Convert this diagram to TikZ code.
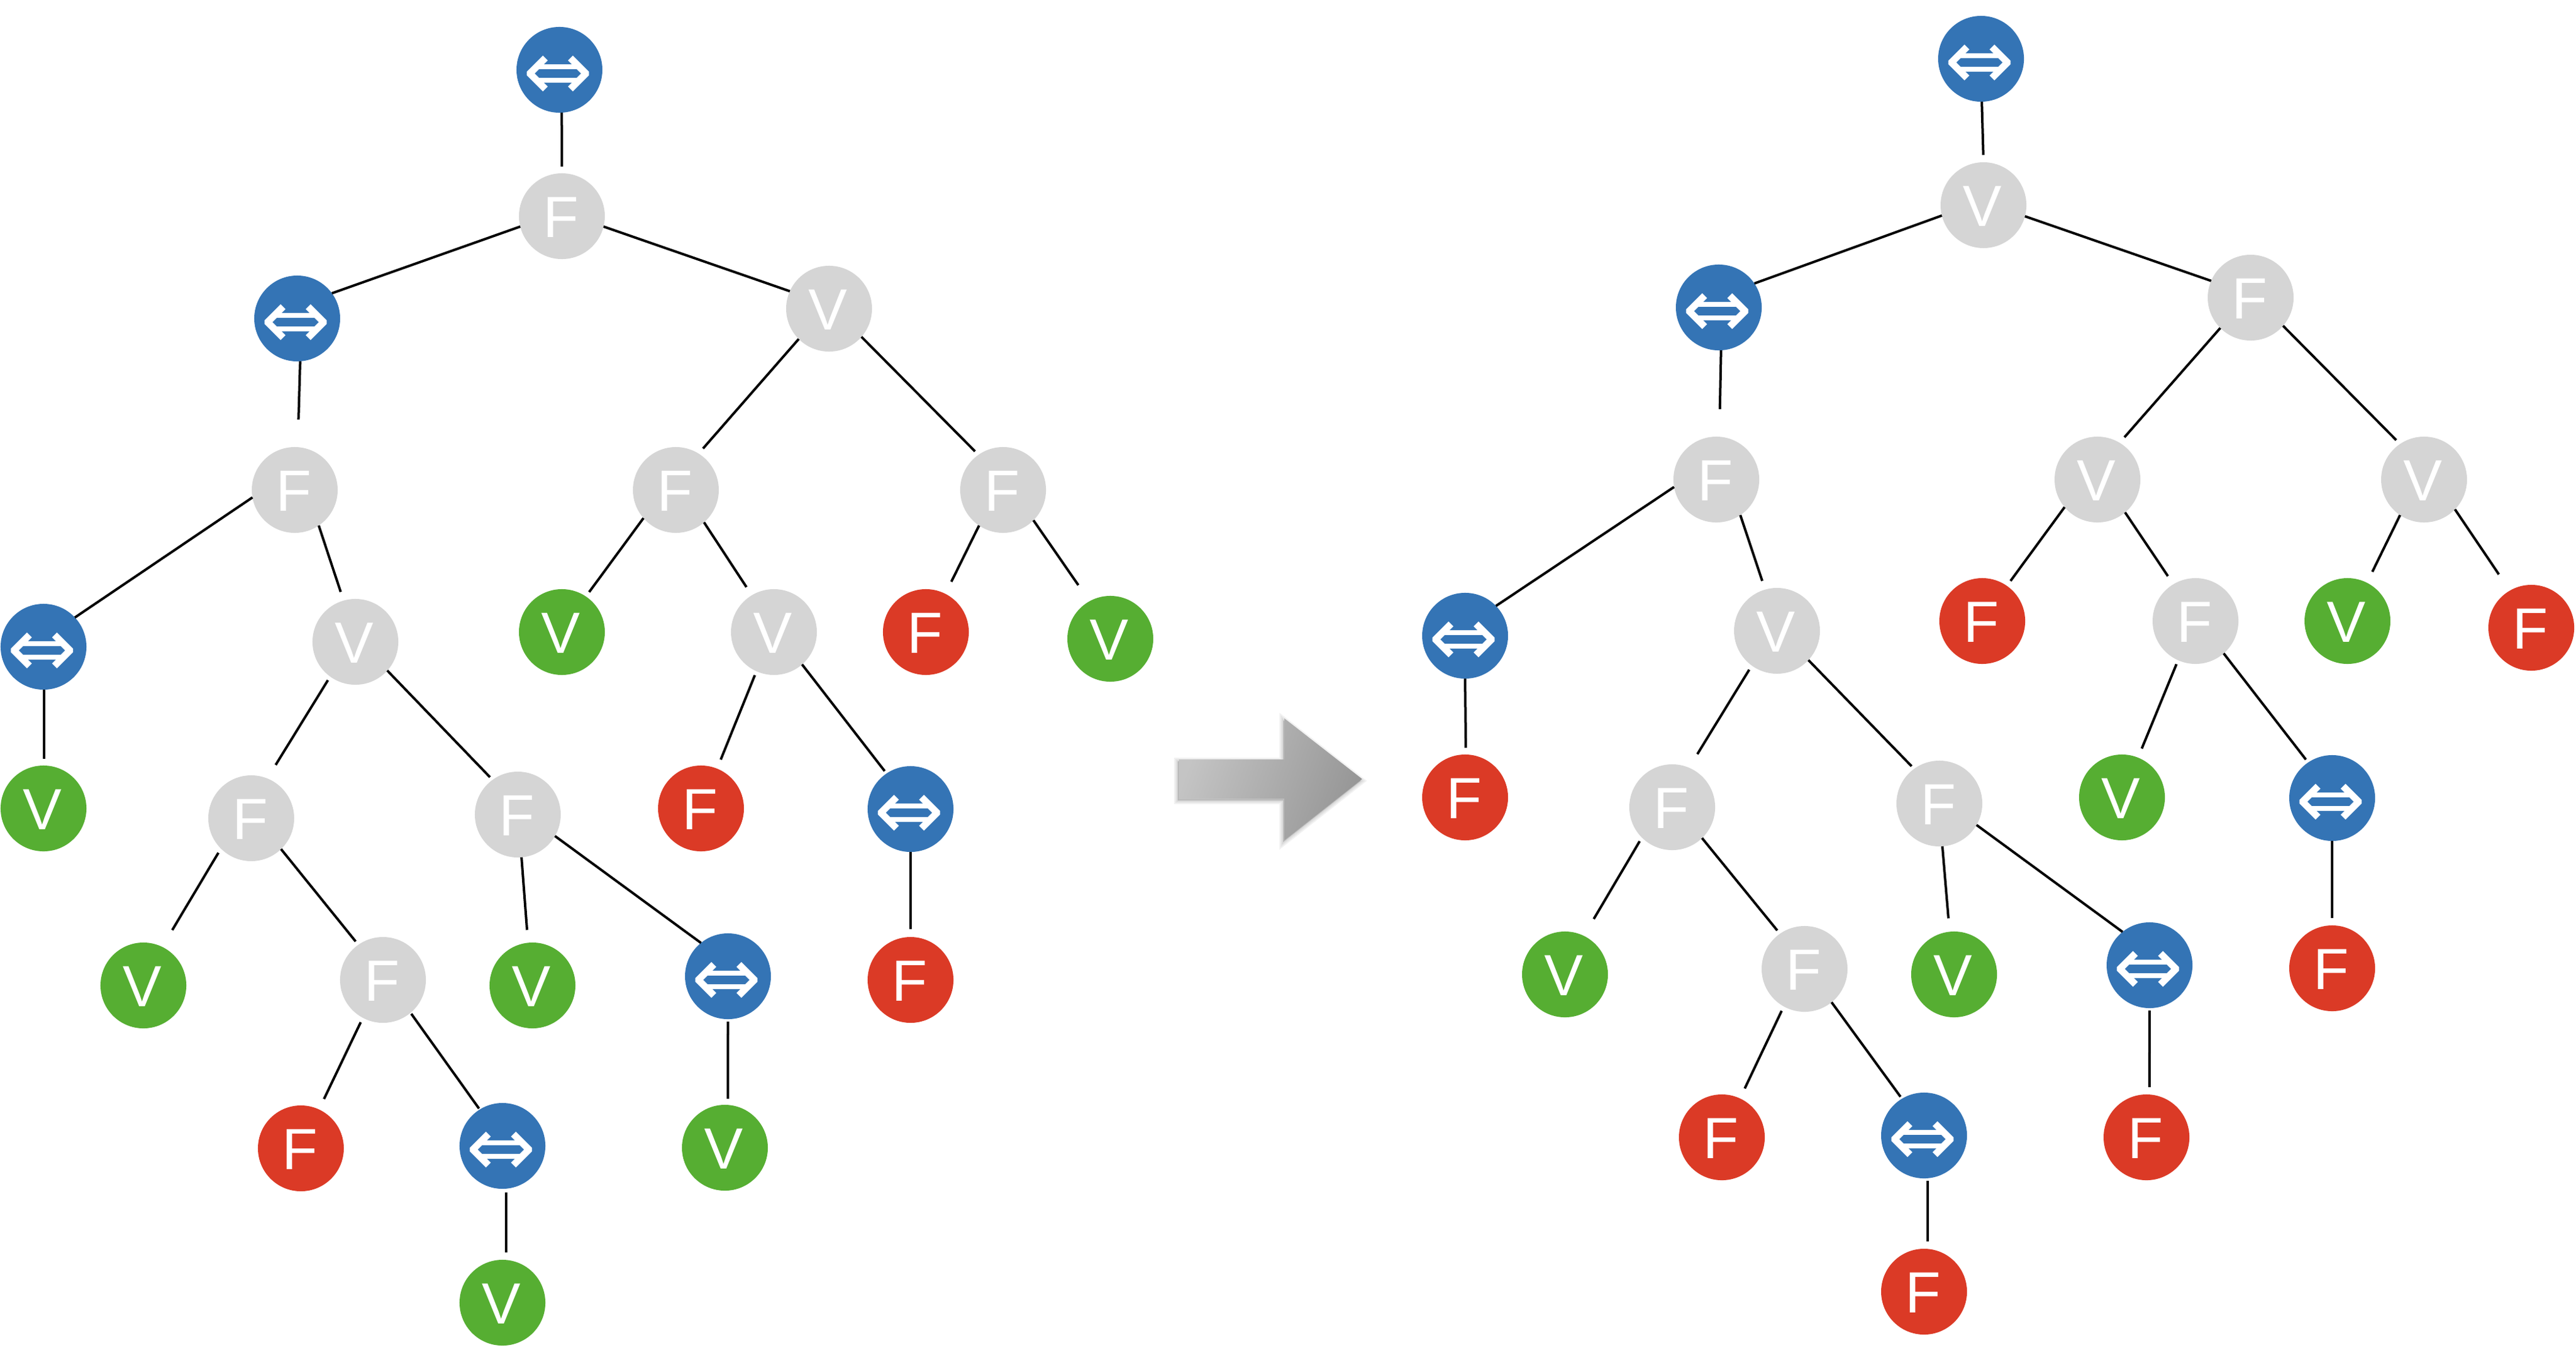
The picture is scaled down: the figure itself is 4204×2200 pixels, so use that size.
\documentclass[tikz,border=0pt]{standalone}
\usepackage{fontspec}
\setmainfont{Liberation Sans}
\newfontfamily\swapfont{DejaVu Sans}
\definecolor{blueswap}{HTML}{3474B5}
\definecolor{greyinner}{HTML}{D5D5D5}
\definecolor{greentrue}{HTML}{56AE32}
\definecolor{redfalse}{HTML}{DB3A26}
\newcommand{\bigarrow}{(1924,1240) -- (2096,1240) -- (2096,1173) -- (2223,1272) -- (2096,1372) -- (2096,1304) -- (1924,1304) -- cycle}
\newcommand{\swapsign}{\makebox[0pt]{\raisebox{-0.145cm}[0pt][0pt]{⇔}}}
\tikzset{
	tnode/.style={circle,inner sep=0pt,outer sep=0pt,minimum size=1.4cm,text=white,text height=0.69cm,text depth=0pt,font=\fontsize{27}{27}\selectfont,execute at begin node={\kern-0.04cm}},
	lblue/.style={tnode,fill=blueswap,font=\swapfont\fontsize{39}{39}\selectfont,execute at begin node={}},
	lgrey/.style={tnode,fill=greyinner},
	lgreen/.style={tnode,fill=greentrue},
	lred/.style={tnode,fill=redfalse},
	link/.style={line width=0.04cm,black},
	halo/.style={fill=black,draw=black,opacity=0.05,shift={(-2,3)}}
}
\begin{document}
\begin{tikzpicture}[x=0.01cm,y=-0.01cm]
	\useasboundingbox (0,0) rectangle (4204,2200);
	% left tree
	\node (a0) [lblue] at (913,114) {\swapsign};
	\node (a1) [lgrey] at (917,353) {F};
	\node (a2) [lblue] at (485,520) {\swapsign};
	\node (a3) [lgrey] at (1353,504) {V};
	\node (a4) [lgrey] at (481,800) {F};
	\node (a5) [lgrey] at (1103,800) {F};
	\node (a6) [lgrey] at (1637,800) {F};
	\node (a7) [lblue] at (71,1056) {\swapsign};
	\node (a8) [lgrey] at (580,1048) {V};
	\node (a9) [lgreen] at (917,1032) {V};
	\node (a10) [lgrey] at (1263,1032) {V};
	\node (a11) [lred] at (1511,1032) {F};
	\node (a12) [lgreen] at (1812,1043) {V};
	\node (a13) [lgreen] at (71,1320) {V};
	\node (a14) [lgrey] at (410,1336) {F};
	\node (a15) [lgrey] at (845,1330) {F};
	\node (a16) [lred] at (1144,1320) {F};
	\node (a17) [lblue] at (1486,1321) {\swapsign};
	\node (a18) [lgreen] at (234,1609) {V};
	\node (a19) [lgrey] at (625,1600) {F};
	\node (a20) [lgreen] at (869,1609) {V};
	\node (a21) [lblue] at (1188,1594) {\swapsign};
	\node (a22) [lred] at (1486,1600) {F};
	\node (a23) [lred] at (491,1875) {F};
	\node (a24) [lblue] at (820,1871) {\swapsign};
	\node (a25) [lgreen] at (1183,1874) {V};
	\node (a26) [lgreen] at (820,2127) {V};
	\draw[link,shorten >=0.11cm] (a0.-87.5) -- (a1.90.7);
	\draw[link] (a1.194.7) -- (a2.36.5);
	\draw[link] (a1.-14.8) -- (a3.156.4);
	\draw[link,shorten >=0.45cm] (a2.-86.3) -- (a4.86.5);
	\draw[link,shorten >=0.11cm] (a3.225.6) -- (a5.58.7);
	\draw[link,shorten >=0.08cm] (a3.-41.5) -- (a6.125);
	\draw[link] (a4.190.5) -- (a7.43.5);
	\draw[link,shorten >=0.15cm] (a4.-56.4) -- (a8.106.7);
	\draw[link,shorten >=0.09cm] (a5.221.6) -- (a9.56);
	\draw[link,shorten >=0.16cm] (a5.-49.9) -- (a10.121.9);
	\draw[link,shorten >=0.22cm] (a6.236.4) -- (a11.63.4);
	\draw[link,shorten >=0.32cm] (a6.-45.3) -- (a12.119.7);
	\draw[link,shorten >=0.11cm] (a7.-89) -- (a13.89.3);
	\draw[link,shorten <=0.07cm,shorten >=0.26cm] (a8.234.3) -- (a14.68.5);
	\draw[link,shorten >=0.06cm] (a8.-42.7) -- (a15.126.4);
	\draw[link,shorten <=0.07cm,shorten >=0.16cm] (a10.246.1) -- (a16.68.8);
	\draw[link,shorten >=0.05cm] (a10.-49) -- (a17.124.7);
	\draw[link,shorten <=0.08cm,shorten >=0.32cm] (a14.225) -- (a18.64);
	\draw[link,shorten >=0.07cm] (a14.-46.2) -- (a19.125);
	\draw[link,shorten >=0.21cm] (a15.-85) -- (a20.96.3);
	\draw[link] (a15.-30) -- (a21.129.8);
	\draw[link,shorten >=0.13cm] (a17.-90) -- (a22.90);
	\draw[link,shorten <=0.08cm,shorten >=0.19cm] (a19.242.4) -- (a23.65.5);
	\draw[link,shorten <=0.02cm,shorten >=0.02cm] (a19.-50.6) -- (a24.122);
	\draw[link,shorten <=0.04cm,shorten >=0.10cm] (a21.-90) -- (a25.86.4);
	\draw[link,shorten <=0.06cm,shorten >=0.12cm] (a24.-85.5) -- (a26.85.8);
	% arrow between the trees
	\path[halo,line width=0.12cm] \bigarrow;
	\path[halo,line width=0.08cm] \bigarrow;
	\path[halo,line width=0.04cm] \bigarrow;
	\shade[left color=black!23,right color=black!41,shading angle=70] \bigarrow;
	% right tree
	\node (b0) [lblue] at (3233,96) {\swapsign};
	\node (b1) [lgrey] at (3237,335) {V};
	\node (b2) [lblue] at (2805,502) {\swapsign};
	\node (b3) [lgrey] at (3673,486) {F};
	\node (b4) [lgrey] at (2801,783) {F};
	\node (b5) [lgrey] at (3423,783) {V};
	\node (b6) [lgrey] at (3956,783) {V};
	\node (b7) [lblue] at (2391,1038) {\swapsign};
	\node (b8) [lgrey] at (2900,1030) {V};
	\node (b9) [lred] at (3235,1014) {F};
	\node (b10) [lgrey] at (3583,1014) {F};
	\node (b11) [lgreen] at (3831,1014) {V};
	\node (b12) [lred] at (4131,1025) {F};
	\node (b13) [lred] at (2391,1302) {F};
	\node (b14) [lgrey] at (2729,1318) {F};
	\node (b15) [lgrey] at (3165,1312) {F};
	\node (b16) [lgreen] at (3463,1302) {V};
	\node (b17) [lblue] at (3806,1303) {\swapsign};
	\node (b18) [lgreen] at (2554,1591) {V};
	\node (b19) [lgrey] at (2945,1582) {F};
	\node (b20) [lgreen] at (3189,1591) {V};
	\node (b21) [lblue] at (3508,1576) {\swapsign};
	\node (b22) [lred] at (3806,1581) {F};
	\node (b23) [lred] at (2810,1857) {F};
	\node (b24) [lblue] at (3140,1854) {\swapsign};
	\node (b25) [lred] at (3503,1857) {F};
	\node (b26) [lred] at (3140,2109) {F};
	\draw[link,shorten >=0.12cm] (b0.-89) -- (b1.90.7);
	\draw[link] (b1.194.8) -- (b2.34.3);
	\draw[link] (b1.-15) -- (b3.157.3);
	\draw[link,shorten >=0.45cm] (b2.-87.5) -- (b4.86.5);
	\draw[link,shorten >=0.12cm] (b3.225.3) -- (b5.59.7);
	\draw[link,shorten >=0.09cm] (b3.-41.9) -- (b6.124.7);
	\draw[link] (b4.190.6) -- (b7.44);
	\draw[link,shorten >=0.15cm] (b4.-56.5) -- (b8.106.4);
	\draw[link,shorten >=0.10cm] (b5.220.7) -- (b9.55);
	\draw[link,shorten >=0.16cm] (b5.-50.3) -- (b10.121.8);
	\draw[link,shorten >=0.20cm] (b6.236.6) -- (b11.63.7);
	\draw[link,shorten >=0.32cm] (b6.-44.8) -- (b12.120);
	\draw[link,shorten >=0.11cm] (b7.-90.8) -- (b13.89.3);
	\draw[link,shorten <=0.08cm,shorten >=0.26cm] (b8.234.7) -- (b14.67.6);
	\draw[link,shorten >=0.06cm] (b8.-43) -- (b15.126.7);
	\draw[link,shorten <=0.07cm,shorten >=0.16cm] (b10.246.2) -- (b16.68.2);
	\draw[link,shorten >=0.06cm] (b10.-49.7) -- (b17.124.9);
	\draw[link,shorten <=0.07cm,shorten >=0.32cm] (b14.225.5) -- (b18.64);
	\draw[link,shorten >=0.07cm] (b14.-46) -- (b19.125.5);
	\draw[link,shorten >=0.22cm] (b15.-86) -- (b20.96.8);
	\draw[link] (b15.-30.2) -- (b21.129.4);
	\draw[link,shorten >=0.12cm] (b17.-90) -- (b22.90);
	\draw[link,shorten <=0.08cm,shorten >=0.18cm] (b19.241.8) -- (b23.65.2);
	\draw[link,shorten >=0.04cm] (b19.-51) -- (b24.121);
	\draw[link,shorten <=0.04cm,shorten >=0.12cm] (b21.-90) -- (b25.86.5);
	\draw[link,shorten <=0.04cm,shorten >=0.12cm] (b24.-85.4) -- (b26.85.8);
\end{tikzpicture}
\end{document}
